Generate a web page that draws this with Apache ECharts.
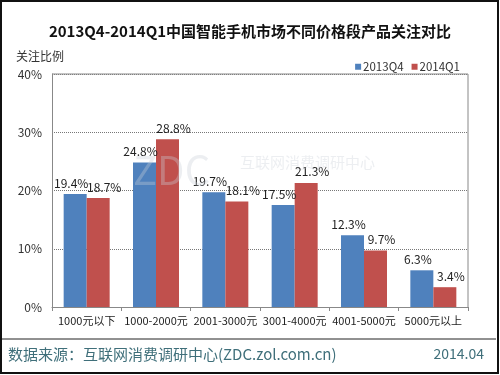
<!DOCTYPE html>
<html><head><meta charset="utf-8">
<script src="https://cdn.jsdelivr.net/npm/echarts@6/dist/echarts.min.js"></script>
<style>html,body{margin:0;padding:0;background:#fff}#c{width:500px;height:375px}</style>
</head><body><div id="c"></div>
<script>
const categories = ['1000元以下','1000-2000元','2001-3000元','3001-4000元','4001-5000元','5000元以上'];
const q4_2013 = [19.4, 24.8, 19.7, 17.5, 12.3, 6.3];
const q1_2014 = [18.7, 28.8, 18.1, 21.3, 9.7, 3.4];
const seriesNames = ['2013Q4','2014Q1'];
const yTicks = [0, 10, 20, 30, 40];

const font = '"Noto Sans CJK SC", "DejaVu Sans", sans-serif';
const chart = echarts.init(document.getElementById('c'));
chart.setOption({
  backgroundColor: '#fff',
  animation: false,
  textStyle: {fontFamily: font},
  title: {
    text: '2013Q4-2014Q1中国智能手机市场不同价格段产品关注对比',
    left: 'center', top: 19,
    textStyle: {fontSize: 15, fontWeight: 'bold', color: '#111', fontFamily: font}
  },
  legend: {
    data: seriesNames, right: 35, top: 56, itemWidth: 6, itemHeight: 6, itemGap: 8,
    icon: 'rect', textStyle: {fontSize: 11.5, color: '#333', padding: [0,0,0,-3]}
  },
  grid: {left: 52, right: 32, top: 74, bottom: 68},
  xAxis: {
    type: 'category', data: categories,
    axisLine: {lineStyle: {color: '#888'}},
    axisTick: {show: true, lineStyle: {color: '#888'}, length: 4},
    axisLabel: {fontSize: 11, color: '#222', margin: 8, interval: 0}
  },
  yAxis: {
    type: 'value', min: 0, max: 40, interval: 10,
    name: '关注比例', nameLocation: 'end', nameGap: 12,
    nameTextStyle: {fontSize: 12, color: '#333', align: 'right', padding: [0, -12, 0, 0]},
    axisLine: {show: true, lineStyle: {color: '#888'}},
    axisTick: {show: false},
    axisLabel: {fontSize: 12, color: '#333', margin: 10, formatter: v => v + '%'},
    splitLine: {show: true, lineStyle: {color: '#777', type: 'dotted'}}
  },
  series: [
    {name: seriesNames[0], type: 'bar', data: q4_2013, barWidth: 23, barGap: '0%',
     itemStyle: {color: '#4F81BD'},
     label: {show: true, position: 'top', offset: [-4, 0], fontSize: 12, color: '#222', formatter: p => p.value.toFixed(1) + '%'}},
    {name: seriesNames[1], type: 'bar', data: q1_2014, barWidth: 23,
     itemStyle: {color: '#C0504D'},
     label: {show: true, position: 'top', offset: [6, 0], fontSize: 12, color: '#222', formatter: p => p.value.toFixed(1) + '%'}}
  ],
  graphic: [
    {type: 'rect', shape: {x: 1, y: 1, width: 497, height: 372}, style: {fill: 'none', stroke: '#111', lineWidth: 2}, z: 100},
    {type: 'line', shape: {x1: 52, y1: 74, x2: 468, y2: 74}, style: {stroke: '#888', lineWidth: 1}, z: 10},
    {type: 'line', shape: {x1: 468, y1: 74, x2: 468, y2: 307}, style: {stroke: '#888', lineWidth: 1}, z: 10},
    {type: 'text', left: 133, top: 150, style: {text: 'ZDC', fontSize: 40, fill: 'rgba(200,205,215,0.35)', fontFamily: font}, z: 20},
    {type: 'text', left: 240, top: 155, style: {text: '互联网消费调研中心', fontSize: 15, fill: 'rgba(200,205,215,0.35)', fontFamily: font}, z: 20},
    {type: 'line', shape: {x1: 2, y1: 339, x2: 496, y2: 339}, style: {stroke: '#222', lineWidth: 1}},
    {type: 'text', left: 8, top: 347, style: {text: '数据来源：互联网消费调研中心(ZDC.zol.com.cn)', fontSize: 15, fill: '#3f6f7a', fontFamily: font}},
    {type: 'text', right: 16, top: 347, style: {text: '2014.04', fontSize: 14, fill: '#3f6f7a', fontFamily: font}}
  ]
});
</script></body></html>
